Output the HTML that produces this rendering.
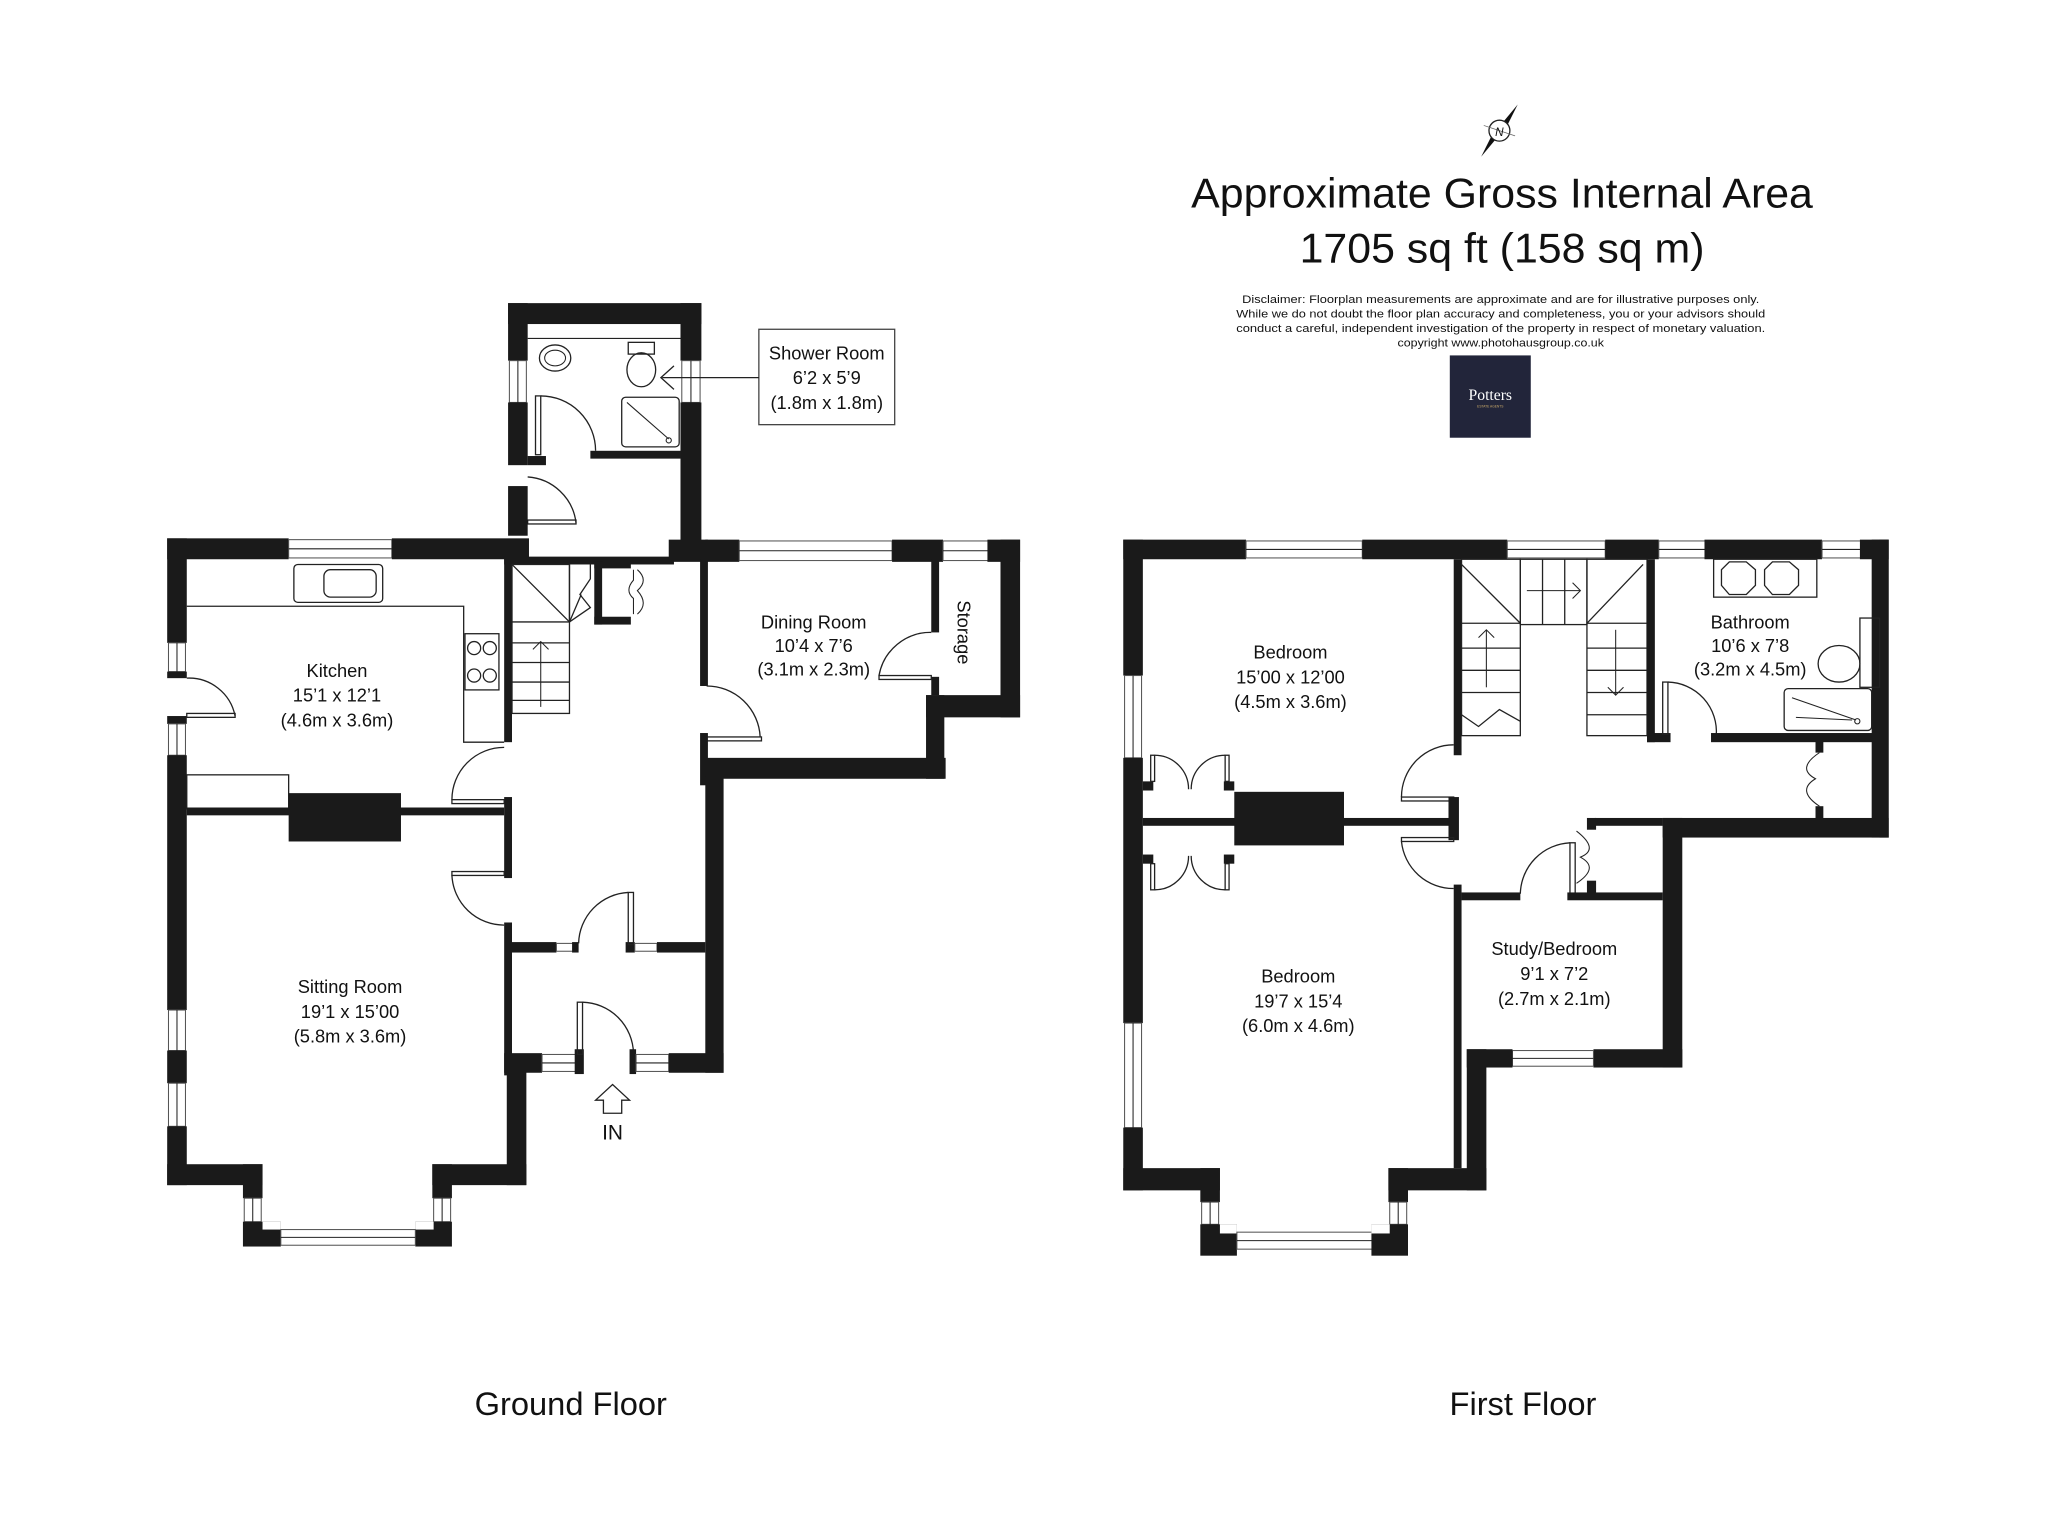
<!DOCTYPE html>
<html><head><meta charset="utf-8"><style>
html,body{margin:0;padding:0;background:#fff;}
svg{display:block;}
text{font-family:"Liberation Sans",sans-serif;fill:#111;}
.w{fill:#1a1a1a;}
.win{fill:#fff;stroke:#555;stroke-width:0.8;}
.ln{fill:none;stroke:#222;stroke-width:1;}
.th{fill:none;stroke:#222;stroke-width:0.8;}
.lbl{font-size:14px;text-anchor:middle;}
</style></head><body>
<svg width="2048" height="1534" viewBox="0 0 1568 1174" preserveAspectRatio="none" xmlns="http://www.w3.org/2000/svg">
<rect width="1568" height="1174" fill="#fff"/>

<!-- ===== GROUND FLOOR ===== -->
<!-- shower block -->
<rect class="w" x="389" y="232" width="148" height="16"/>
<rect class="w" x="389" y="232" width="15" height="44"/>
<rect class="win" x="390" y="276" width="13" height="32"/><line class="th" x1="396.5" y1="276" x2="396.5" y2="308"/>
<rect class="w" x="389" y="308" width="15" height="48"/>
<rect class="w" x="404" y="349" width="14" height="7"/>
<rect class="w" x="521" y="232" width="16" height="44"/>
<rect class="win" x="522" y="276" width="14" height="32"/><line class="th" x1="529" y1="276" x2="529" y2="308"/>
<rect class="w" x="521" y="308" width="16" height="112"/>
<rect class="w" x="512" y="413" width="30" height="17"/>
<rect class="w" x="452" y="345" width="69" height="6"/>
<line class="th" x1="404" y1="259" x2="521" y2="259"/>
<!-- shower fixtures -->
<ellipse class="ln" cx="425" cy="274" rx="12" ry="10"/><ellipse class="th" cx="425" cy="274" rx="8" ry="6"/>
<ellipse class="ln" cx="491" cy="283" rx="11" ry="13"/><rect class="ln" x="481" y="262" width="20" height="9"/>
<rect class="ln" x="476" y="304" width="44" height="38" rx="3"/><line class="th" x1="480" y1="308" x2="512" y2="336"/><circle class="th" cx="512" cy="337" r="2"/>
<!-- shower doors -->
<rect class="ln" x="410" y="303" width="4" height="45"/><path class="ln" d="M414 303 A42 42 0 0 1 456 345"/>
<path class="ln" d="M404 365 A40 40 0 0 1 441 400"/><rect class="ln" x="404" y="398" width="37" height="3"/>
<rect class="w" x="389" y="372" width="15" height="38"/>
<!-- shower label -->
<rect x="581" y="252" width="104" height="73" fill="#fff" stroke="#444" stroke-width="1"/>
<text class="lbl" x="633" y="275">Shower Room</text>
<text class="lbl" x="633" y="294">6’2 x 5’9</text>
<text class="lbl" x="633" y="313">(1.8m x 1.8m)</text>
<line class="ln" x1="581" y1="289" x2="507" y2="289"/><path class="ln" d="M516 280 L506 289 L516 298"/>

<!-- kitchen -->
<rect class="w" x="128" y="412" width="93" height="16"/>
<rect class="win" x="221" y="413" width="79" height="14"/><line class="th" x1="221" y1="420" x2="300" y2="420"/>
<rect class="w" x="300" y="412" width="105" height="16"/>
<rect class="w" x="386" y="426" width="6" height="142"/>
<rect class="w" x="386" y="426" width="130" height="6"/>
<rect class="w" x="128" y="412" width="15" height="80"/>
<rect class="win" x="129" y="492" width="13" height="22"/><line class="th" x1="135.5" y1="492" x2="135.5" y2="514"/>
<rect class="w" x="128" y="514" width="15" height="5"/>
<rect class="w" x="128" y="548" width="15" height="6"/>
<rect class="win" x="129" y="554" width="13" height="24"/><line class="th" x1="135.5" y1="554" x2="135.5" y2="578"/>
<rect class="w" x="128" y="578" width="15" height="195"/>
<rect class="win" x="129" y="773" width="13" height="31"/><line class="th" x1="135.5" y1="773" x2="135.5" y2="804"/>
<rect class="w" x="128" y="804" width="15" height="25"/>
<rect class="win" x="129" y="829" width="13" height="33"/><line class="th" x1="135.5" y1="829" x2="135.5" y2="862"/>
<rect class="w" x="128" y="862" width="15" height="45"/>
<!-- kitchen side door -->
<rect class="ln" x="143" y="546" width="37" height="3"/><path class="ln" d="M143 519 A36 36 0 0 1 180 548"/>
<!-- worktop -->
<path class="ln" d="M143 464 L355 464 L355 568 L386 568"/>
<rect class="ln" x="225" y="432" width="68" height="29" rx="3"/><rect class="ln" x="248" y="436" width="40" height="21" rx="5"/>
<rect class="ln" x="356" y="485" width="26" height="43"/>
<circle class="ln" cx="363" cy="496" r="5"/><circle class="ln" cx="375" cy="496" r="5"/><circle class="ln" cx="363" cy="517" r="5"/><circle class="ln" cx="375" cy="517" r="5"/>
<!-- kitchen/sitting divider -->
<rect class="ln" x="143" y="593" width="78" height="26"/>
<rect class="w" x="143" y="618" width="243" height="6"/>
<rect class="w" x="221" y="607" width="86" height="37"/>
<rect class="w" x="386" y="610" width="6" height="62"/>
<!-- kitchen door -->
<rect class="ln" x="346" y="612" width="40" height="3"/><path class="ln" d="M346 612 A40 40 0 0 1 386 572"/>
<!-- sitting door -->
<rect class="ln" x="346" y="667" width="40" height="3"/><path class="ln" d="M346 670 A40 40 0 0 0 386 708"/>
<rect class="w" x="386" y="706" width="6" height="117"/>
<!-- stairs -->
<rect class="ln" x="392" y="432" width="44" height="114"/>
<line class="ln" x1="392" y1="432" x2="436" y2="476"/>
<line class="ln" x1="392" y1="476" x2="436" y2="476"/>
<path class="ln" d="M436 432 L436 476 L445 455 L436 476"/>
<path class="ln" d="M436 476 L452 465 L444 455 L452 443 L452 432"/>
<line class="ln" x1="392" y1="492" x2="436" y2="492"/><line class="ln" x1="392" y1="507" x2="436" y2="507"/><line class="ln" x1="392" y1="522" x2="436" y2="522"/><line class="ln" x1="392" y1="536" x2="436" y2="536"/>
<line class="th" x1="414" y1="541" x2="414" y2="491"/><path class="th" d="M408 497 L414 491 L420 497"/>
<!-- cupboard under -->
<rect class="w" x="455" y="430" width="6" height="48"/><rect class="w" x="455" y="472" width="28" height="6"/><rect class="w" x="455" y="430" width="28" height="5"/>
<path class="th" d="M485 436 L485 444 Q478 452 485 458 L485 470"/><path class="th" d="M488 436 Q497 444 488 452 Q497 462 488 470"/>
<!-- hall right -->
<rect class="w" x="536" y="428" width="6" height="97"/>
<rect class="ln" x="541" y="564" width="42" height="3"/><path class="ln" d="M541 525 A41 41 0 0 1 582 564"/>
<rect class="w" x="536" y="561" width="6" height="40"/>
<rect class="w" x="540" y="580" width="184" height="16"/>
<rect class="w" x="540" y="594" width="14" height="227"/>
<!-- dining room top -->
<rect class="w" x="540" y="413" width="26" height="17"/>
<rect class="win" x="566" y="414" width="117" height="15"/><line class="th" x1="566" y1="421.5" x2="683" y2="421.5"/>
<rect class="w" x="683" y="413" width="39" height="17"/>
<rect class="win" x="722" y="414" width="36" height="15"/><line class="th" x1="722" y1="421.5" x2="758" y2="421.5"/>
<rect class="w" x="756" y="413" width="25" height="17"/>
<rect class="w" x="766" y="413" width="15" height="136"/>
<rect class="w" x="709" y="532" width="72" height="17"/>
<rect class="w" x="709" y="532" width="14" height="64"/>
<rect class="w" x="713" y="428" width="6" height="56"/>
<rect class="w" x="713" y="518" width="6" height="14"/>
<rect class="ln" x="673" y="517" width="40" height="3"/><path class="ln" d="M673 517 A40 40 0 0 1 713 484"/>
<!-- porch -->
<rect class="w" x="391" y="721" width="35" height="8"/>
<rect class="win" x="426" y="722" width="14" height="6"/>
<rect class="w" x="438" y="721" width="5" height="8"/>
<rect class="w" x="479" y="721" width="7" height="8"/>
<rect class="win" x="486" y="722" width="17" height="6"/>
<rect class="w" x="503" y="721" width="37" height="8"/>
<rect class="ln" x="481" y="683" width="4" height="40"/><path class="ln" d="M443 722 A40 40 0 0 1 481 683"/>
<rect class="w" x="386" y="806" width="29" height="15"/>
<rect class="win" x="415" y="807" width="28" height="13"/><line class="th" x1="415" y1="813.5" x2="443" y2="813.5"/>
<rect class="w" x="440" y="803" width="7" height="19"/>
<rect class="ln" x="442" y="767" width="4" height="40"/><path class="ln" d="M446 767 A40 40 0 0 1 485 806"/>
<rect class="w" x="482" y="803" width="5" height="19"/>
<rect class="win" x="487" y="807" width="25" height="13"/><line class="th" x1="487" y1="813.5" x2="512" y2="813.5"/>
<rect class="w" x="512" y="806" width="42" height="15"/>
<!-- sitting room bay -->
<rect class="w" x="388" y="819" width="15" height="88"/>
<rect class="w" x="331" y="891" width="72" height="16"/>
<rect class="w" x="331" y="891" width="15" height="26"/>
<rect class="win" x="332" y="917" width="13" height="18"/><line class="th" x1="338.5" y1="917" x2="338.5" y2="935"/>
<rect class="w" x="318" y="935" width="28" height="19"/><rect fill="#fff" x="318" y="935" width="14" height="6"/>
<rect class="w" x="128" y="891" width="73" height="16"/>
<rect class="w" x="186" y="891" width="15" height="26"/>
<rect class="win" x="187" y="917" width="13" height="18"/><line class="th" x1="193.5" y1="917" x2="193.5" y2="935"/>
<rect class="w" x="186" y="935" width="29" height="19"/><rect fill="#fff" x="201" y="935" width="14" height="6"/>
<rect class="win" x="215" y="941" width="103" height="12"/><line class="th" x1="215" y1="947" x2="318" y2="947"/>
<!-- IN arrow -->
<path class="ln" d="M462 852 L462 842 L456 842 L469 830 L482 842 L476 842 L476 852 Z"/>
<text x="469" y="872" style="font-size:16px;text-anchor:middle">IN</text>

<!-- GF labels -->
<text class="lbl" x="258" y="518">Kitchen</text>
<text class="lbl" x="258" y="537">15’1 x 12’1</text>
<text class="lbl" x="258" y="556">(4.6m x 3.6m)</text>
<text class="lbl" x="268" y="760">Sitting Room</text>
<text class="lbl" x="268" y="779">19’1 x 15’00</text>
<text class="lbl" x="268" y="798">(5.8m x 3.6m)</text>
<text class="lbl" x="623" y="481">Dining Room</text>
<text class="lbl" x="623" y="499">10’4 x 7’6</text>
<text class="lbl" x="623" y="517">(3.1m x 2.3m)</text>
<text class="lbl" transform="translate(733,484) rotate(90)">Storage</text>
<text x="437" y="1083" style="font-size:25px;text-anchor:middle">Ground Floor</text>

<!-- ===== FIRST FLOOR ===== -->
<rect class="w" x="860" y="413" width="94" height="15"/>
<rect class="win" x="954" y="414" width="89" height="13"/><line class="th" x1="954" y1="420.5" x2="1043" y2="420.5"/>
<rect class="w" x="1043" y="413" width="111" height="15"/>
<rect class="win" x="1154" y="414" width="75" height="13"/><line class="th" x1="1154" y1="420.5" x2="1229" y2="420.5"/>
<rect class="w" x="1229" y="413" width="41" height="15"/>
<rect class="win" x="1270" y="414" width="40" height="13"/><line class="th" x1="1270" y1="420.5" x2="1310" y2="420.5"/>
<rect class="w" x="1305" y="413" width="90" height="15"/>
<rect class="win" x="1395" y="414" width="36" height="13"/><line class="th" x1="1395" y1="420.5" x2="1431" y2="420.5"/>
<rect class="w" x="1424" y="413" width="22" height="15"/>
<rect class="w" x="1439" y="413" width="7" height="228"/>
<rect class="w" x="1433" y="413" width="13" height="228"/>
<rect class="w" x="1273" y="626" width="173" height="15"/>
<rect class="w" x="1273" y="626" width="15" height="191"/>
<rect class="w" x="1220" y="803" width="68" height="14"/>
<rect class="win" x="1158" y="804" width="62" height="12"/><line class="th" x1="1158" y1="810" x2="1220" y2="810"/>
<rect class="w" x="1123" y="803" width="35" height="14"/>
<rect class="w" x="1123" y="803" width="15" height="108"/>
<rect class="w" x="1063" y="894" width="75" height="17"/>
<rect class="w" x="1113" y="677" width="6" height="217"/>
<!-- FF left -->
<rect class="w" x="860" y="413" width="15" height="104"/>
<rect class="win" x="861" y="517" width="13" height="63"/><line class="th" x1="867.5" y1="517" x2="867.5" y2="580"/>
<rect class="w" x="860" y="580" width="15" height="203"/>
<rect class="win" x="861" y="783" width="13" height="80"/><line class="th" x1="867.5" y1="783" x2="867.5" y2="863"/>
<rect class="w" x="860" y="863" width="15" height="48"/>
<rect class="w" x="860" y="894" width="74" height="17"/>
<rect class="w" x="919" y="894" width="15" height="26"/>
<rect class="win" x="920" y="920" width="13" height="17"/><line class="th" x1="926.5" y1="920" x2="926.5" y2="937"/>
<rect class="w" x="919" y="937" width="28" height="24"/><rect fill="#fff" x="934" y="937" width="13" height="7"/>
<rect class="win" x="947" y="943" width="105" height="13"/><line class="th" x1="947" y1="949.5" x2="1052" y2="949.5"/>
<rect class="w" x="1063" y="894" width="15" height="26"/>
<rect class="win" x="1064" y="920" width="13" height="17"/><line class="th" x1="1070.5" y1="920" x2="1070.5" y2="937"/>
<rect class="w" x="1050" y="937" width="28" height="24"/><rect fill="#fff" x="1050" y="937" width="14" height="7"/>
<!-- bedroom divider / chimney / wardrobes -->
<rect class="w" x="875" y="626" width="238" height="6"/>
<rect class="w" x="945" y="606" width="84" height="41"/>
<rect class="w" x="875" y="598" width="8" height="7"/><rect class="w" x="937" y="598" width="8" height="7"/>
<rect class="w" x="875" y="654" width="8" height="7"/><rect class="w" x="937" y="654" width="8" height="7"/>
<rect class="ln" x="881" y="578" width="3" height="20"/><rect class="ln" x="938" y="578" width="3" height="20"/>
<path class="ln" d="M884 578 A26 26 0 0 1 910 604"/><path class="ln" d="M938 578 A26 26 0 0 0 912 604"/>
<rect class="ln" x="881" y="661" width="3" height="20"/><rect class="ln" x="938" y="661" width="3" height="20"/>
<path class="ln" d="M884 681 A26 26 0 0 0 910 655"/><path class="ln" d="M938 681 A26 26 0 0 1 912 655"/>
<!-- landing doors -->
<rect class="w" x="1113" y="428" width="6" height="150"/>
<rect class="ln" x="1073" y="610" width="40" height="3"/><path class="ln" d="M1073 610 A40 40 0 0 1 1113 570"/>
<rect class="w" x="1109" y="610" width="8" height="33"/>
<rect class="ln" x="1073" y="641" width="40" height="3"/><path class="ln" d="M1073 644 A40 40 0 0 0 1113 680"/>
<rect class="w" x="1119" y="683" width="45" height="6"/>
<rect class="ln" x="1202" y="645" width="4" height="40"/><path class="ln" d="M1164 684 A40 40 0 0 1 1202 645"/>
<rect class="w" x="1200" y="683" width="73" height="6"/>
<rect class="w" x="1221" y="626" width="52" height="6"/>
<rect class="w" x="1215" y="626" width="7" height="9"/><rect class="w" x="1215" y="674" width="7" height="10"/>
<path class="th" d="M1207 636 Q1225 650 1210 656 Q1225 664 1207 676"/>
<!-- stairs FF -->
<rect class="ln" x="1119" y="428" width="45" height="135"/>
<line class="ln" x1="1119" y1="432" x2="1164" y2="477"/><line class="ln" x1="1119" y1="477" x2="1164" y2="477"/>
<line class="ln" x1="1119" y1="496" x2="1164" y2="496"/><line class="ln" x1="1119" y1="513" x2="1164" y2="513"/><line class="ln" x1="1119" y1="530" x2="1164" y2="530"/>
<path class="ln" d="M1119 547 L1132 556 L1148 543 L1164 552"/>
<line class="th" x1="1138" y1="526" x2="1138" y2="482"/><path class="th" d="M1132 488 L1138 482 L1144 488"/>
<rect class="ln" x="1164" y="428" width="51" height="50"/>
<line class="ln" x1="1181" y1="428" x2="1181" y2="478"/><line class="ln" x1="1198" y1="428" x2="1198" y2="478"/>
<line class="th" x1="1169" y1="452" x2="1210" y2="452"/><path class="th" d="M1204 446 L1210 452 L1204 458"/>
<rect class="ln" x="1215" y="428" width="46" height="135"/>
<line class="ln" x1="1215" y1="477" x2="1258" y2="432"/><line class="ln" x1="1215" y1="477" x2="1261" y2="477"/>
<line class="ln" x1="1215" y1="496" x2="1261" y2="496"/><line class="ln" x1="1215" y1="513" x2="1261" y2="513"/><line class="ln" x1="1215" y1="530" x2="1261" y2="530"/><line class="ln" x1="1215" y1="547" x2="1261" y2="547"/>
<line class="th" x1="1237" y1="482" x2="1237" y2="532"/><path class="th" d="M1231 526 L1237 532 L1243 526"/>
<!-- bathroom -->
<rect class="w" x="1261" y="428" width="6" height="140"/>
<rect class="w" x="1261" y="561" width="18" height="7"/>
<rect class="ln" x="1273" y="522" width="4" height="40"/><path class="ln" d="M1277 522 A38 38 0 0 1 1314 563"/>
<rect class="w" x="1310" y="561" width="129" height="7"/>
<rect class="ln" x="1312" y="428" width="79" height="29"/>
<path class="ln" d="M1318 436 L1324 430 L1337 430 L1344 436 L1344 448 L1337 455 L1324 455 L1318 448 Z"/>
<path class="ln" d="M1351 436 L1357 430 L1370 430 L1377 436 L1377 448 L1370 455 L1357 455 L1351 448 Z"/>
<rect class="ln" x="1424" y="473" width="15" height="53"/>
<ellipse class="ln" cx="1408" cy="508" rx="16" ry="14"/>
<rect class="ln" x="1366" y="527" width="67" height="32" rx="3"/>
<line class="th" x1="1372" y1="534" x2="1421" y2="551"/><line class="th" x1="1375" y1="549" x2="1418" y2="551"/><circle class="th" cx="1422" cy="552" r="2"/>
<rect class="w" x="1390" y="567" width="6" height="9"/><rect class="w" x="1390" y="617" width="6" height="10"/>
<path class="th" d="M1393 576 Q1375 588 1390 596 Q1375 605 1393 617"/>
<!-- FF labels -->
<text class="lbl" x="988" y="504">Bedroom</text>
<text class="lbl" x="988" y="523">15’00 x 12’00</text>
<text class="lbl" x="988" y="542">(4.5m x 3.6m)</text>
<text class="lbl" x="994" y="752">Bedroom</text>
<text class="lbl" x="994" y="771">19’7 x 15’4</text>
<text class="lbl" x="994" y="790">(6.0m x 4.6m)</text>
<text class="lbl" x="1190" y="731">Study/Bedroom</text>
<text class="lbl" x="1190" y="750">9’1 x 7’2</text>
<text class="lbl" x="1190" y="769">(2.7m x 2.1m)</text>
<text class="lbl" x="1340" y="481">Bathroom</text>
<text class="lbl" x="1340" y="499">10’6 x 7’8</text>
<text class="lbl" x="1340" y="517">(3.2m x 4.5m)</text>
<text x="1166" y="1083" style="font-size:25px;text-anchor:middle">First Floor</text>

<!-- ===== HEADER ===== -->
<g transform="translate(1148,100)">
<path d="M14 -20 L3 2 L-1 -2 Z" fill="#111"/>
<path d="M-14 20 L-3 -2 L1 2 Z" fill="#111"/>
<circle cx="0" cy="0" r="8" fill="#fff" stroke="#222" stroke-width="1"/>
<line x1="-12" y1="-4" x2="12" y2="4" stroke="#666" stroke-width="0.6"/>
<text x="0" y="4" style="font-size:9px;text-anchor:middle;font-style:italic">N</text>
</g>
<text x="1150" y="159" style="font-size:32px;text-anchor:middle" textLength="476" lengthAdjust="spacingAndGlyphs">Approximate Gross Internal Area</text>
<text x="1150" y="201" style="font-size:32px;text-anchor:middle" textLength="310" lengthAdjust="spacingAndGlyphs">1705 sq ft  (158 sq m)</text>
<text x="1149" y="232" style="font-size:8.5px;text-anchor:middle" textLength="396" lengthAdjust="spacingAndGlyphs">Disclaimer: Floorplan measurements are approximate and are for illustrative purposes only.</text>
<text x="1149" y="243" style="font-size:8.5px;text-anchor:middle" textLength="405" lengthAdjust="spacingAndGlyphs">While we do not doubt the floor plan accuracy and completeness, you or your advisors should</text>
<text x="1149" y="254" style="font-size:8.5px;text-anchor:middle" textLength="405" lengthAdjust="spacingAndGlyphs">conduct a careful, independent investigation of the property in respect of monetary valuation.</text>
<text x="1149" y="265" style="font-size:8.5px;text-anchor:middle" textLength="158" lengthAdjust="spacingAndGlyphs">copyright www.photohausgroup.co.uk</text>
<rect x="1110" y="272" width="62" height="63" fill="#22253a"/>
<text x="1141" y="306" style="font-size:12px;text-anchor:middle;font-family:'Liberation Serif',serif;fill:#fff">Potters</text>
<text x="1141" y="312" style="font-size:2.5px;text-anchor:middle;fill:#c9a96a">ESTATE AGENTS</text>
</svg>
</body></html>
